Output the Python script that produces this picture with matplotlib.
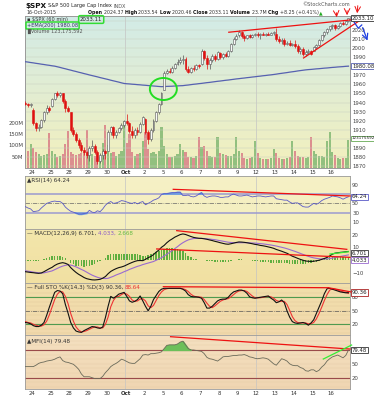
import numpy as np
import matplotlib
matplotlib.use("Agg")
import matplotlib.pyplot as plt
import matplotlib.transforms as mtrans
from matplotlib.colors import to_rgb
from matplotlib.patches import Ellipse

plt.rcParams['font.family'] = ['DejaVu Sans']

# ---------------- data (60 min bars, 23-Sep .. 16-Oct 2015) ----------------
bars = np.arange(-3, 119)          # bar 0 = first hour of 24-Sep, 7 bars per day
day_labels = ['24', '25', '28', '29', '30', 'Oct', '2', '5', '6', '7', '8', '9',
              '12', '13', '14', '15', '16']

open_ = [1940, 1938, 1937,
         1932, 1917, 1912, 1913, 1921, 1929, 1934,
         1936, 1944, 1950, 1948, 1950, 1942, 1934,
         1929, 1910, 1905, 1899, 1893, 1888, 1885,
         1882, 1890, 1892, 1885, 1876, 1882, 1887,
         1887, 1908, 1913, 1904, 1908, 1912, 1915,
         1920, 1917, 1909, 1904, 1910, 1907, 1916,
         1922, 1908, 1900, 1910, 1920, 1929, 1938,
         1954, 1973, 1975, 1974, 1978, 1983, 1985,
         1987, 1988, 1977, 1974, 1978, 1977, 1981,
         1982, 1997, 1989, 1983, 1987, 1991, 1988,
         1995, 1990, 1993, 1991, 1997, 2005, 2010,
         2014, 2018, 2013, 2011, 2014, 2012, 2015,
         2016, 2014, 2016, 2015, 2016, 2015, 2017,
         2016, 2010, 2008, 2009, 2004, 2006, 2003,
         2004, 2002, 1997, 1999, 1993, 1996, 1997,
         1996.5, 2001, 2003, 2009, 2014, 2018, 2021,
         2024.4, 2026, 2022, 2024, 2028, 2027, 2030]
high = [1942, 1940, 1940,
        1934, 1919, 1916, 1922, 1931, 1937, 1936,
        1945, 1951, 1953, 1952, 1951, 1944, 1936,
        1930, 1913, 1907, 1901, 1896, 1891, 1887,
        1892, 1899, 1894, 1888, 1884, 1889, 1888,
        1910, 1914, 1914, 1910, 1913, 1917, 1921,
        1927, 1919, 1914, 1912, 1913, 1918, 1925,
        1923, 1910, 1912, 1922, 1931, 1940, 1952,
        1975, 1977, 1978, 1980, 1984, 1988, 1990,
        1992, 1990, 1980, 1979, 1981, 1982, 1983,
        1999, 1998, 1992, 1989, 1993, 1994, 1997,
        1996, 1995, 1996, 1998, 2006, 2012, 2016,
        2020, 2019, 2016, 2015, 2016, 2016, 2017,
        2018, 2017, 2018, 2017, 2018, 2018, 2019,
        2022, 2013, 2011, 2011, 2008, 2009, 2006,
        2009, 2004, 2001, 2001, 1998, 1999, 1998,
        2002, 2004, 2010, 2015, 2019, 2022, 2024,
        2027, 2027, 2025, 2029, 2030, 2031, 2033.5]
low = [1937, 1935, 1935,
       1915, 1909, 1909, 1912, 1919, 1927, 1930,
       1935, 1943, 1946, 1946, 1940, 1930, 1929,
       1908, 1903, 1897, 1890, 1885, 1882, 1879,
       1876, 1887, 1883, 1872, 1873, 1878, 1878,
       1886, 1904, 1901, 1901, 1906, 1910, 1913,
       1915, 1906, 1901, 1901, 1904, 1906, 1915,
       1905, 1894, 1898, 1908, 1918, 1927, 1937,
       1954, 1971, 1972, 1973, 1977, 1981, 1983,
       1983, 1975, 1972, 1972, 1975, 1976, 1978,
       1981, 1987, 1977, 1977, 1985, 1986, 1987,
       1988, 1988, 1990, 1990, 1996, 2003, 2009,
       2012, 2011, 2008, 2010, 2011, 2011, 2013,
       2012, 2010, 2014, 2013, 2014, 2014, 2015,
       2008, 2006, 2004, 2002, 2003, 2002, 2002,
       2000, 1995, 1994, 1991, 1991, 1993, 1992,
       1996.5, 1999, 2002, 2008, 2012, 2016, 2019,
       2021, 2020.5, 2021, 2023, 2025, 2026, 2029]
close = [1938, 1937, 1938.8,
         1917, 1912, 1913, 1921, 1929, 1934, 1932,
         1944, 1950, 1948, 1950, 1942, 1934, 1931,
         1910, 1905, 1899, 1893, 1888, 1885, 1882,
         1890, 1892, 1885, 1876, 1882, 1887, 1884,
         1908, 1913, 1904, 1908, 1912, 1915, 1920,
         1917, 1909, 1904, 1910, 1907, 1916, 1924,
         1908, 1900, 1910, 1920, 1929, 1938, 1951,
         1973, 1975, 1974, 1978, 1983, 1985, 1987,
         1988, 1977, 1974, 1978, 1977, 1981, 1980,
         1997, 1989, 1983, 1987, 1991, 1988, 1996,
         1990, 1993, 1991, 1997, 2005, 2010, 2013,
         2018, 2013, 2011, 2014, 2012, 2015, 2015,
         2014, 2016, 2015, 2016, 2015, 2017, 2017.5,
         2010, 2008, 2009, 2004, 2006, 2003, 2004,
         2002, 1997, 1999, 1993, 1996, 1997, 1994,
         2001, 2003, 2009, 2014, 2018, 2021, 2024,
         2026, 2022, 2024, 2028, 2027, 2030, 2033.1]
volume_m = [60, 75, 105,
            90, 70, 60, 55, 58, 62, 155,
            75, 60, 50, 55, 62, 105, 165,
            70, 60, 58, 62, 65, 70, 168,
            85, 60, 55, 65, 50, 110, 190,
            100, 65, 70, 55, 60, 75, 205,
            110, 150, 70, 55, 60, 65, 120,
            160, 85, 65, 70, 60, 75, 180,
            95, 60, 50, 48, 55, 60, 105,
            80, 72, 48, 50, 45, 55, 136,
            92, 95, 77, 55, 50, 48, 136,
            65, 60, 57, 52, 55, 60, 138,
            77, 65, 42, 40, 45, 48, 118,
            64, 45, 40, 38, 40, 42, 84,
            64, 42, 40, 38, 45, 50, 117,
            77, 55, 50, 48, 45, 50, 135,
            77, 60, 55, 52, 50, 120, 158,
            70, 58, 42, 40, 42, 45, 123]
ema200 = [1985.0, 1984.6, 1984.1,
          1983.7, 1983.2, 1982.8, 1982.3, 1981.9, 1981.4, 1981.0,
          1980.5, 1980.1, 1979.4, 1978.7, 1977.9, 1977.2, 1976.4,
          1975.7, 1974.9, 1974.2, 1973.4, 1972.7, 1971.9, 1971.2,
          1970.4, 1969.7, 1969.0, 1968.3, 1967.5, 1966.8, 1966.1,
          1965.4, 1964.6, 1963.9, 1963.2, 1962.5, 1961.7, 1961.0,
          1960.7, 1960.5, 1960.2, 1960.0, 1959.7, 1959.5, 1959.2,
          1959.0, 1958.7, 1958.5, 1958.2, 1958.0, 1957.7, 1957.5,
          1957.6, 1957.8, 1957.9, 1958.0, 1958.2, 1958.3, 1958.5,
          1958.6, 1959.0, 1959.3, 1959.7, 1960.1, 1960.4, 1960.8,
          1961.1, 1961.5, 1961.9, 1962.2, 1962.6, 1963.0, 1963.4,
          1963.7, 1964.1, 1964.5, 1964.8, 1965.2, 1965.6, 1966.0,
          1966.3, 1966.7, 1967.0, 1967.4, 1967.7, 1968.1, 1968.4,
          1968.8, 1969.1, 1969.5, 1969.8, 1970.2, 1970.5, 1970.9,
          1971.3, 1971.8, 1972.2, 1972.6, 1973.0, 1973.5, 1973.9,
          1974.3, 1974.8, 1975.2, 1975.6, 1976.0, 1976.3, 1976.5,
          1976.8, 1977.1, 1977.3, 1977.6, 1977.9, 1978.1, 1978.4,
          1978.7, 1978.9, 1979.2, 1979.4, 1979.6, 1979.9, 1980.08]
rsi = [43, 40, 38,
       32, 33, 34, 40, 45, 50, 52,
       54, 55, 54, 54, 50, 42, 37,
       33, 31, 29, 27, 27, 28, 29,
       35, 31, 30, 34, 32, 38, 46,
       51, 54, 50, 51, 53, 56, 55,
       53, 51, 50, 52, 49, 52, 54,
       47, 50, 53, 57, 59, 62, 69,
       71, 71, 72, 73, 73, 74, 74,
       67, 67, 68, 65, 64, 66, 70,
       73, 66, 63, 65, 66, 66, 65,
       63, 63, 64, 64, 68, 70, 68,
       66, 66, 67, 68, 66, 64, 65,
       66, 66, 65, 64, 65, 66, 66,
       60, 59, 58, 57, 57, 53, 50,
       51, 51, 47, 43, 42, 42, 46,
       50, 48, 51, 56, 59, 61, 63,
       66, 65, 64, 62, 59, 62, 64.24]
macd = [-9.2, -9.5, -9.8,
        -10, -10.3, -10.5, -10.2, -9.2, -8, -6.8,
        -5.8, -4.3, -3.2, -2.5, -2.1, -2.6, -3.5,
        -6, -8, -9.8, -11.3, -12.5, -13.8, -14.7,
        -15.2, -15.6, -15.7, -15.5, -15.2, -14.3, -13,
        -10.8, -9, -7.8, -6.8, -6, -5.5, -4.8,
        -3.8, -2.8, -1.9, -1.1, -0.5, -0.4, -0.5,
        0.5, 1.8, 2.8, 4.2, 6.2, 7.8, 10,
        11.5, 13.6, 15.3, 16.6, 18, 19, 20,
        20.5, 20.1, 19.3, 18.5, 17.8, 17.4, 17.1,
        17, 16.7, 16.3, 15.8, 15.3, 14.7, 14.2,
        13.6, 13.1, 12.6, 12.4, 12.8, 13.3, 13.8,
        14.2, 14.1, 13.9, 13.6, 13.2, 12.8, 12.3,
        12, 11.5, 11.2, 10.8, 10.3, 9.8, 9.2,
        8.3, 7.6, 6.9, 6.1, 5.3, 4.2, 3,
        2.2, 1.3, 0.5, -0.2, -0.8, -1, -1.1,
        -1, -0.6, -0.2, 0.5, 1.2, 2, 3.2,
        4.6, 5.4, 5.7, 6, 6.2, 6.5, 6.701]
signal = [-8.5, -8.8, -9.1,
          -9.5, -9.8, -10.1, -10.3, -10.1, -9.6, -9.1,
          -8.6, -7.6, -6.6, -5.6, -4.8, -4.2, -3.8,
          -4, -4.6, -5.4, -6.4, -7.4, -8.4, -9.6,
          -10.8, -11.9, -12.8, -13.6, -14.2, -14.5, -14.6,
          -14.4, -13.6, -12.8, -11.8, -11, -10.2, -9.2,
          -8.4, -7.4, -6.6, -5.8, -5, -4.4, -3.6,
          -3, -2.4, -1.8, -1.2, -0.2, 0.8, 1.8,
          3.2, 4.5, 6, 7.4, 9, 10.5, 12.2,
          13.6, 14.8, 15.8, 16.4, 16.9, 17, 17,
          17, 16.9, 16.7, 16.5, 16.2, 16, 15.6,
          15.2, 14.8, 14.4, 14, 13.8, 13.6, 13.6,
          13.6, 13.6, 13.6, 13.6, 13.5, 13.4, 13.3,
          13.1, 12.9, 12.7, 12.4, 12.1, 11.8, 11.4,
          11, 10.5, 10, 9.5, 8.9, 8.2, 7.5,
          6.8, 6, 5.2, 4.4, 3.6, 2.9, 2.2,
          1.7, 1.3, 1, 0.8, 0.8, 0.9, 1.1,
          1.5, 1.9, 2.4, 2.8, 3.2, 3.6, 4.033]
macd_hist = [-0.7, -0.7, -0.7,
             -0.5, -0.5, -0.4, 0.1, 0.9, 1.6, 2.3,
             2.8, 3.3, 3.4, 3.1, 2.7, 1.6, 0.3,
             -2, -3.4, -4.4, -4.9, -5.1, -5.4, -5.1,
             -4.4, -3.7, -2.9, -1.9, -1, 0.2, 1.6,
             3.6, 4.6, 5, 5, 5, 4.7, 4.4,
             4.6, 4.6, 4.7, 4.7, 4.5, 4, 3.1,
             3.5, 4.2, 4.6, 5.4, 6.4, 7, 8.2,
             8.3, 9.1, 9.3, 9.2, 9, 8.5, 7.8,
             6.9, 5.3, 3.5, 2.1, 0.9, 0.4, 0.1,
             0, -0.2, -0.4, -0.7, -0.9, -1.3, -1.4,
             -1.6, -1.7, -1.8, -1.6, -1, -0.3, 0.2,
             0.6, 0.5, 0.3, 0, -0.3, -0.6, -1,
             -1.1, -1.4, -1.5, -1.6, -1.8, -2, -2.2,
             -2.2, -2.3, -2.4, -2.4, -2.6, -2.8, -3,
             -3.1, -3.2, -3.2, -3.1, -3, -2.7, -2.3,
             -1.9, -1.4, -0.9, -0.3, 0.4, 1.1, 2.1,
             2.3, 2.6, 2.6, 2.6, 2.6, 2.7, 2.67]
sto_k = [24, 23, 21,
         17, 15, 15, 18, 24, 40, 58,
         75, 91, 95, 94, 88, 64, 45,
         24, 12, 5, 3, 2, 6, 9,
         12, 15, 14, 12, 11, 14, 35,
         60, 82, 78, 82, 87, 89, 91,
         82, 72, 69, 71, 75, 83, 72,
         60, 50, 60, 75, 84, 93, 98,
         100, 100, 100, 100, 100, 100, 100,
         98, 94, 86, 82, 81, 81, 80,
         78, 68, 56, 56, 60, 66, 72,
         75, 76, 76, 80, 87, 92, 94,
         96, 96, 94, 89, 81, 79, 78,
         79, 80, 81, 82, 83, 78, 74,
         68, 70, 74, 68, 50, 36, 26,
         23, 22, 23, 24, 22, 18, 23,
         30, 44, 58, 72, 88, 99, 100,
         98, 96, 94, 92, 91, 90, 90.36]
sto_d = [26, 24, 23,
         20, 18, 16, 16, 19, 27, 41,
         58, 75, 87, 93, 92, 82, 66,
         44, 27, 14, 7, 3, 4, 6,
         9, 12, 14, 14, 12, 12, 20,
         36, 59, 73, 81, 82, 86, 89,
         87, 82, 74, 71, 72, 76, 77,
         72, 61, 57, 62, 73, 84, 92,
         97, 99, 100, 100, 100, 100, 100,
         99, 97, 93, 87, 83, 81, 81,
         80, 75, 67, 60, 57, 61, 66,
         71, 74, 76, 77, 81, 86, 91,
         94, 95, 95, 93, 88, 83, 79,
         79, 79, 80, 81, 82, 81, 78,
         73, 71, 71, 71, 64, 51, 37,
         28, 24, 23, 23, 23, 21, 21,
         24, 32, 44, 58, 73, 86, 96,
         99, 98, 96, 94, 92, 91, 88.64]
mfi = [44, 44, 44,
       44, 47, 51, 53, 54, 56, 57,
       58, 60, 63, 65, 57, 54, 53,
       51, 49, 44, 38, 28, 22, 22,
       22, 20, 18, 18, 18, 23, 31,
       37, 44, 48, 51, 55, 60, 58,
       55, 52, 51, 51, 56, 61, 69,
       70, 69, 72, 72, 73, 74, 76,
       83, 90, 91, 91, 91, 93, 97,
       99, 91, 83, 80, 80, 79, 78,
       77, 72, 64, 61, 60, 58, 56,
       60, 65, 66, 66, 67, 68, 68,
       69, 69, 70, 68, 65, 64, 62,
       61, 62, 63, 62, 60, 55, 50,
       47, 54, 61, 59, 56, 50, 47,
       46, 46, 42, 40, 35, 34, 37,
       37, 33, 36, 43, 48, 56, 61,
       65, 67, 69, 66, 63, 68, 79.48]

# hand drawn annotations, in (bar, value) units of each panel
price_lines = [[(73.2, 2017.5), (125.0, 2032.9)], [(101.2, 1989.1), (124.2, 2034.3)]]
price_arrows = [[(113.4, 2042.1), (113.7, 2031.0)], [(117.5, 2044.3), (117.5, 2033.2)],
                [(121.6, 2049.8), (121.2, 2035.4)]]
blue_path = [(119.2, 2032.9), (121.7, 2021.9), (123.0, 2025.5), (125.5, 2005.3)]
circle_spot = (48.7, 1954.9, 10.1, 24.3)
rsi_lines = [[(52.4, 80.4), (118.6, 66.0)]]
macd_lines = [[(53.7, 23.1), (117.4, 8.4)], [(46.2, 8.7), (118.6, 2.1)]]
macd_green = [(111.1, 4.7), (118.0, 6.5)]
sto_lines = [[(48.7, 103.6), (110.5, 101.3)], [(110.5, 101.3), (119.8, 91.0)]]
mfi_lines = [[(51.4, 108.7), (118.6, 82.0)]]
mfi_green = [(108.6, 60.4), (119.2, 90.7)]

# ---------------- layout ----------------
W, H = 374, 400
FS_TICK = 3.9
FS_LEG = 4.1
fig = plt.figure(figsize=(W / 100, H / 100), dpi=100)
fig.patch.set_facecolor('white')
XL = (-3.12, 118.6)
day_pos = [7 * d - 0.5 for d in range(len(day_labels))]

o, h, l, c = map(np.array, (open_, high, low, close))


def rect(x0, y0, x1, y1):
    return [x0 / W, 1 - y1 / H, (x1 - x0) / W, (y1 - y0) / H]


def gradient(ax, top, bottom):
    c0, c1 = np.array(to_rgb(top)), np.array(to_rgb(bottom))
    t = np.linspace(0, 1, 64)[:, None, None]
    ax.imshow(c0 + (c1 - c0) * t, extent=[0, 1, 0, 1], transform=ax.transAxes,
              aspect='auto', zorder=0, interpolation='bilinear')


def style(ax, yl):
    ax.set_xlim(*XL)
    ax.set_ylim(*yl)
    for s in ax.spines.values():
        s.set_color('#9a9a9a')
        s.set_linewidth(0.6)
    ax.yaxis.tick_right()
    ax.tick_params(axis='y', length=0, labelsize=FS_TICK, pad=1.5, colors='#444444')
    ax.set_xticks([])
    for xv in (34.5, 83.5):
        ax.axvline(xv, color='#c4c4c4', lw=0.5, zorder=1)


def value_box(ax, y, s, ec, color='#222222', fs=FS_TICK):
    tr = mtrans.blended_transform_factory(ax.transAxes, ax.transData)
    ax.text(1.006, y, s, transform=tr, fontsize=fs, color=color, va='center', ha='left',
            bbox=dict(boxstyle='square,pad=0.12', fc='white', ec=ec, lw=0.6),
            clip_on=False, zorder=10)


def draw_lines(ax, segs, color, lw=0.9):
    for seg in segs:
        xs, ys = zip(*seg)
        ax.plot(xs, ys, color=color, lw=lw, clip_on=False, zorder=8)


def day_axis(ax):
    ax.set_xticks(day_pos)
    ax.set_xticklabels(day_labels)
    ax.tick_params(axis='x', length=0, labelsize=FS_TICK, pad=1.2, colors='#333333')
    for lab in ax.get_xticklabels():
        if lab.get_text() == 'Oct':
            lab.set_fontweight('bold')


def ftext(x, y, s, **kw):
    return fig.text(x / W, 1 - y / H, s, va='center', ha='left', **kw)


def text_run(x, y, parts, fs):
    r = fig.canvas.get_renderer()
    for s, weight, color in parts:
        t = ftext(x, y, s, fontsize=fs, fontweight=weight, color=color)
        x += t.get_window_extent(renderer=r).width


# ---------------- header ----------------
text_run(25, 6, [('$SPX', 'bold', '#111111')], 5.2)
text_run(48, 6, [('S&P 500 Large Cap Index ', 'normal', '#222222'),
                 ('INDX', 'normal', '#555555')], 3.6)
ftext(26, 13, '16-Oct-2015', fontsize=3.4, color='#333333')
text_run(88, 12.5, [('Open ', 'bold', '#111111'), ('2024.37 ', 'normal', '#333333'),
                    ('High ', 'bold', '#111111'), ('2033.54 ', 'normal', '#333333'),
                    ('Low ', 'bold', '#111111'), ('2020.46 ', 'normal', '#333333'),
                    ('Close ', 'bold', '#111111'), ('2033.11 ', 'normal', '#333333'),
                    ('Volume ', 'bold', '#111111'), ('23.7M ', 'normal', '#333333'),
                    ('Chg ', 'bold', '#111111'), ('+8.25 (+0.41%)', 'normal', '#333333'),
                    ('\u25b2', 'normal', '#22aa22')], 3.45)
fig.text(350 / W, 1 - 5 / H, '\u00a9StockCharts.com', fontsize=3.6, color='#555555',
         ha='right', va='center')

# ---------------- price + volume panel ----------------
ax_v = fig.add_axes(rect(25, 16, 350, 168))
gradient(ax_v, '#d2ebe7', '#f3f0bd')
up_vol = np.r_[c[0] >= o[0], c[1:] >= c[:-1]]
ax_v.bar(bars, volume_m, width=0.8, color=np.where(up_vol, '#92c07f', '#dc8f8f'),
         zorder=2)
ax_v.set_xlim(*XL)
ax_v.set_ylim(0, 669)
ax_v.set_yticks([50, 100, 150, 200])
ax_v.set_yticklabels(['50M', '100M', '150M', '200M'])
ax_v.tick_params(axis='y', length=0, labelsize=FS_TICK, pad=1.2, colors='#444444')
for s in ax_v.spines.values():
    s.set_color('#9a9a9a')
    s.set_linewidth(0.6)
day_axis(ax_v)

ax_p = fig.add_axes(rect(25, 16, 350, 168))
ax_p.set_facecolor('none')
style(ax_p, (1867.8, 2035.4))
for lev in range(1870, 2040, 10):
    ax_p.axhline(lev, color='#c8d0c0', lw=0.35, zorder=1)
ax_p.set_yticks([v for v in range(1870, 2030, 10) if v not in (1900, 1980)])
ax_p.plot(bars, ema200, color='#5661b0', lw=0.9, zorder=3)
up = c >= o
ax_p.vlines(bars, l, h, colors=np.where(up, '#555555', '#dd1111'), lw=0.5, zorder=4)
ax_p.bar(bars, np.maximum(np.abs(c - o), 0.5), bottom=np.minimum(o, c), width=0.72,
         color=np.where(up, '#f7f7f7', '#e01010'), edgecolor=np.where(up, '#555555', '#dd1111'),
         linewidth=0.4, zorder=5)
value_box(ax_p, close[-1], '%.2f' % close[-1], '#333333')
value_box(ax_p, ema200[-1], '%.2f' % ema200[-1], '#5661b0')
value_box(ax_p, 2020 - (138 - 30) * 1.103, '123175592', '#66aa55', fs=3.0)

draw_lines(ax_p, price_lines, '#ee1111', lw=0.9)
for (x1, y1), (x2, y2) in price_arrows:
    ax_p.annotate('', xy=(x2, y2), xytext=(x1, y1), annotation_clip=False,
                  arrowprops=dict(arrowstyle='->', color='#ee1111', lw=0.7))
bx, by = zip(*blue_path)
ax_p.plot(bx[:-1], by[:-1], color='#1f3fe0', lw=0.9, clip_on=False, zorder=8)
ax_p.annotate('', xy=blue_path[-1], xytext=blue_path[-2], annotation_clip=False,
              arrowprops=dict(arrowstyle='->', color='#1f3fe0', lw=0.9))
cx, cy, cw, ch = circle_spot
ax_p.add_patch(Ellipse((cx, cy), cw, ch, fill=False, ec='#22dd22', lw=1.4, zorder=9))

# legend
ftext(27, 19.5, '\u25aa $SPX (60 min)', fontsize=3.6, color='#333333')
ftext(80, 19.5, '2033.11', fontsize=3.9, color='#222222',
      bbox=dict(boxstyle='round,pad=0.25', fc='none', ec='#33dd33', lw=1.1))
ftext(27, 25.5, '+EMA(200) 1980.08', fontsize=3.6, color='#333366',
      bbox=dict(boxstyle='round,pad=0.2', fc='none', ec='#33dd33', lw=1.1))
ftext(27, 31, '\u258aVolume 123,175,592', fontsize=3.6, color='#555555')

# ---------------- RSI ----------------
ax_r = fig.add_axes(rect(25, 176, 350, 229))
gradient(ax_r, '#f6f1c6', '#f4eebe')
style(ax_r, (-5.4, 109.2))
ax_r.set_yticks([10, 30, 50, 90])
r_arr = np.array(rsi)
ax_r.axhline(70, color='#9a9ad0', lw=1.1, zorder=2)
ax_r.axhline(30, color='#9a9ad0', lw=1.1, zorder=2)
ax_r.axhline(50, color='#666666', lw=0.5, ls='-.', zorder=2)
ax_r.fill_between(bars, r_arr, 70, where=r_arr > 70, interpolate=True, color='#6f9fe0', zorder=3)
ax_r.fill_between(bars, r_arr, 30, where=r_arr < 30, interpolate=True, color='#6f9fe0', zorder=3)
ax_r.plot(bars, r_arr, color='#5a5ac8', lw=0.6, zorder=4)
draw_lines(ax_r, rsi_lines, '#ee1111')
value_box(ax_r, rsi[-1], '%.2f' % rsi[-1], '#5a5ac8')
ftext(27, 180.5, '\u25b2RSI(14) 64.24', fontsize=FS_LEG, color='#333333')

# ---------------- MACD ----------------
ax_m = fig.add_axes(rect(25, 229, 350, 283))
gradient(ax_m, '#f3e6ab', '#f1e0a2')
style(ax_m, (-18.1, 24.4))
ax_m.set_yticks([-10, 10, 20])
ax_m.bar(bars, macd_hist, width=0.55, color='#5fae3f', zorder=2)
ax_m.plot(bars, signal, color='#9a6ad0', lw=0.8, zorder=3)
ax_m.plot(bars, macd, color='#111111', lw=0.8, zorder=4)
draw_lines(ax_m, macd_lines, '#ee1111')
xs, ys = zip(*macd_green)
ax_m.plot(xs, ys, color='#33ee33', lw=0.9, clip_on=False, zorder=8)
value_box(ax_m, macd[-1] - 1.4, '%.3f' % macd[-1], '#333333')
value_box(ax_m, signal[-1] - 4.2, '%.3f' % signal[-1], '#9a6ad0')
text_run(27, 233.5, [('\u2014 MACD(12,26,9) 6.701, ', 'normal', '#333333'),
                     ('4.033, ', 'normal', '#8a5ac8'),
                     ('2.668', 'normal', '#66bb44')], FS_LEG)

# ---------------- Full STO ----------------
ax_s = fig.add_axes(rect(25, 283, 350, 335))
gradient(ax_s, '#f2dfaa', '#f1d9ad')
style(ax_s, (-3.8, 111.8))
ax_s.set_yticks([20, 50, 80])
for lev in range(0, 110, 10):
    ax_s.axhline(lev, color='#e0c898', lw=0.3, zorder=1)
ax_s.axhline(80, color='#4f9a4f', lw=0.8, zorder=2)
ax_s.axhline(20, color='#4f9a4f', lw=0.8, zorder=2)
ax_s.axhline(50, color='#555555', lw=0.5, ls='-.', zorder=2)
ax_s.plot(bars, sto_d, color='#ee3333', lw=0.8, zorder=3)
ax_s.plot(bars, sto_k, color='#111111', lw=0.8, zorder=4)
draw_lines(ax_s, sto_lines, '#ee1111')
value_box(ax_s, sto_k[-1], '%.2f' % sto_k[-1], '#aa2222')
text_run(27, 287.5, [('\u2014 Full STO %K(14,3) %D(3) 90.36, ', 'normal', '#333333'),
                     ('88.64', 'normal', '#ee3333')], FS_LEG)

# ---------------- MFI ----------------
ax_f = fig.add_axes(rect(25, 335, 350, 389))
gradient(ax_f, '#f4e0c0', '#f0d6b2')
style(ax_f, (-4.5, 112.4))
ax_f.set_yticks([20, 50])
for lev in range(0, 110, 10):
    ax_f.axhline(lev, color='#e6cba8', lw=0.3, zorder=1)
f_arr = np.array(mfi)
ax_f.axhline(80, color='#9a4a4a', lw=0.8, zorder=2)
ax_f.axhline(20, color='#9a4a4a', lw=0.8, zorder=2)
ax_f.fill_between(bars, f_arr, 80, where=f_arr > 80, interpolate=True, color='#6cbf5a', zorder=3)
ax_f.plot(bars, f_arr, color='#6a6a5a', lw=0.6, zorder=4)
draw_lines(ax_f, mfi_lines, '#ee1111')
xs, ys = zip(*mfi_green)
ax_f.plot(xs, ys, color='#33ee33', lw=0.9, clip_on=False, zorder=8)
value_box(ax_f, mfi[-1], '%.2f' % mfi[-1], '#333333')
ftext(27, 341.5, '\u25b2MFI(14) 79.48', fontsize=FS_LEG, color='#333333')
day_axis(ax_f)

fig.savefig('out.png', dpi=100)
